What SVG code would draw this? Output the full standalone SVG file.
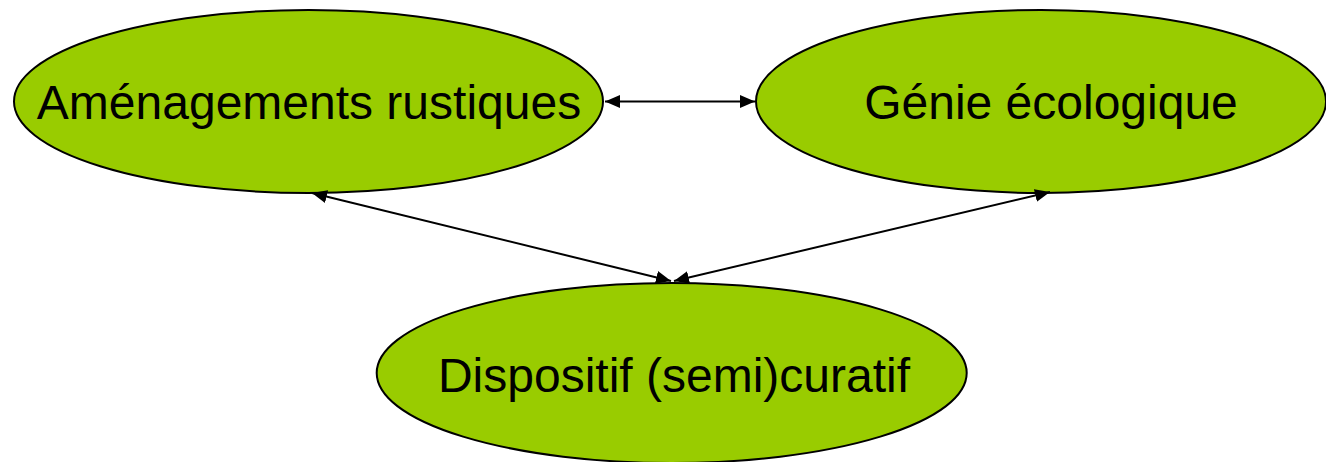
<svg xmlns="http://www.w3.org/2000/svg" width="1326" height="462" viewBox="0 0 1326 462">
<style>
.node ellipse{fill:#99CC00;stroke:#000;stroke-width:2}
.node text{font-family:"Liberation Sans",Arial,sans-serif;font-size:48px;fill:#000;text-anchor:middle}
.conn line{stroke:#000;stroke-width:2;fill:none}
</style>
<defs>
<marker id="ah" markerUnits="userSpaceOnUse" markerWidth="16" markerHeight="14" refX="15" refY="6.5" orient="auto-start-reverse" viewBox="0 0 16 13">
<path d="M0,0 L15,6.5 L0,13 Z" fill="#000"/>
</marker>
</defs>
<rect width="1326" height="462" fill="#fff"/>
<g id="node-amenagements" class="node">
<ellipse cx="308.5" cy="101.5" rx="294.5" ry="91.5"/>
<text x="309" y="119">Aménagements rustiques</text>
</g>
<g id="node-genie" class="node">
<ellipse cx="1041" cy="101.5" rx="285" ry="91.5"/>
<text x="1051" y="119">Génie écologique</text>
</g>
<g id="node-dispositif" class="node">
<ellipse cx="671.7" cy="373" rx="295" ry="90"/>
<text x="674" y="392">Dispositif (semi)curatif</text>
</g>
<g id="connectors" class="conn">
<line x1="605" y1="101.5" x2="755" y2="101.5" marker-start="url(#ah)" marker-end="url(#ah)"/>
<line x1="312" y1="193" x2="671" y2="281" marker-start="url(#ah)" marker-end="url(#ah)"/>
<line x1="1050" y1="192" x2="674" y2="281" marker-start="url(#ah)" marker-end="url(#ah)"/>
</g>
</svg>
